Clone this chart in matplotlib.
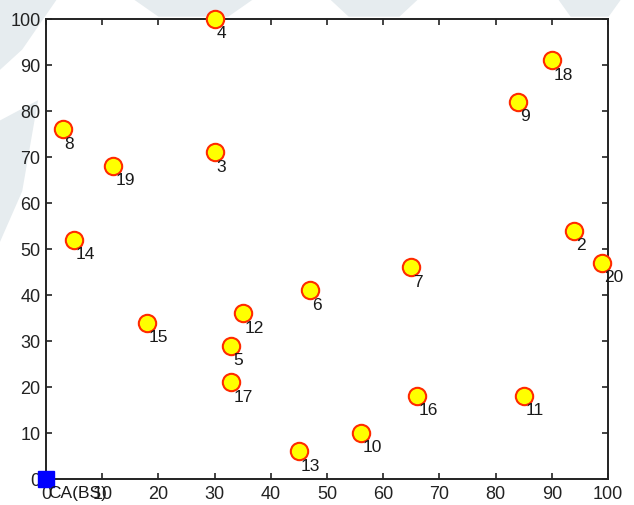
import matplotlib

matplotlib.use("Agg")
import matplotlib.pyplot as plt
from matplotlib.patches import Polygon

plt.rcParams["font.family"] = ["Liberation Sans", "DejaVu Sans"]

# node positions (x, y) and their ids
node_ids = [2, 3, 4, 5, 6, 7, 8, 9, 10, 11, 12, 13, 14, 15, 16, 17, 18, 19, 20]
node_x = [94, 30, 30, 33, 47, 65, 3, 84, 56, 85, 35, 45, 5, 18, 66, 33, 90, 12, 99]
node_y = [54, 71, 100, 29, 41, 46, 76, 82, 10, 18, 36, 6, 52, 34, 18, 21, 91, 68, 47]

# base station
bs_x = [0]
bs_y = [0]
bs_label = "CA(BS)"

ticks = [0, 10, 20, 30, 40, 50, 60, 70, 80, 90, 100]

fig = plt.figure(figsize=(6.34, 5.06), dpi=100)

# faint watermark shapes behind the axes
wm = "#e6ecef"
for pts in [
    [(0.0, 1.0), (0.09, 1.0), (0.035, 0.90), (0.0, 0.86)],
    [(0.0, 0.76), (0.06, 0.80), (0.035, 0.62), (0.0, 0.52)],
    [(0.21, 1.0), (0.40, 1.0), (0.36, 0.965), (0.25, 0.965)],
    [(0.52, 1.0), (0.66, 1.0), (0.63, 0.965), (0.55, 0.965)],
    [(0.88, 1.0), (0.98, 1.0), (0.96, 0.965), (0.90, 0.965)],
]:
    fig.patches.append(Polygon(pts, closed=True, transform=fig.transFigure,
                               facecolor=wm, edgecolor="none", zorder=-5))

ax = fig.add_axes([0.0726, 0.0514, 0.8864, 0.9091])
ax.set_facecolor("white")

ax.plot(node_x, node_y, "o", markersize=12.5, markerfacecolor="#ffff00",
        markeredgecolor="#ff2a00", markeredgewidth=1.5, linestyle="none",
        clip_on=False, zorder=3)
for nid, x, y in zip(node_ids, node_x, node_y):
    ax.text(x + 0.3, y - 3, str(nid), fontsize=12.5, ha="left", va="center",
            color="#1a1a1a", zorder=4, clip_on=False)

ax.plot(bs_x, bs_y, "s", markersize=11, color="#0000ff", clip_on=False, zorder=5)
ax.text(bs_x[0] + 0.3, bs_y[0] - 3, bs_label, fontsize=12.5, ha="left",
        va="center", color="#1a1a1a", zorder=5, clip_on=False)

ax.set_xlim(0, 100)
ax.set_ylim(0, 100)
ax.set_xticks(ticks)
ax.set_yticks(ticks)
ax.tick_params(direction="in", length=4, width=1.2, top=True, right=True,
               labelsize=13, colors="#222222", pad=4)
for side in ax.spines.values():
    side.set_linewidth(1.4)
    side.set_color("#222222")

fig.savefig("out.png", dpi=100)
